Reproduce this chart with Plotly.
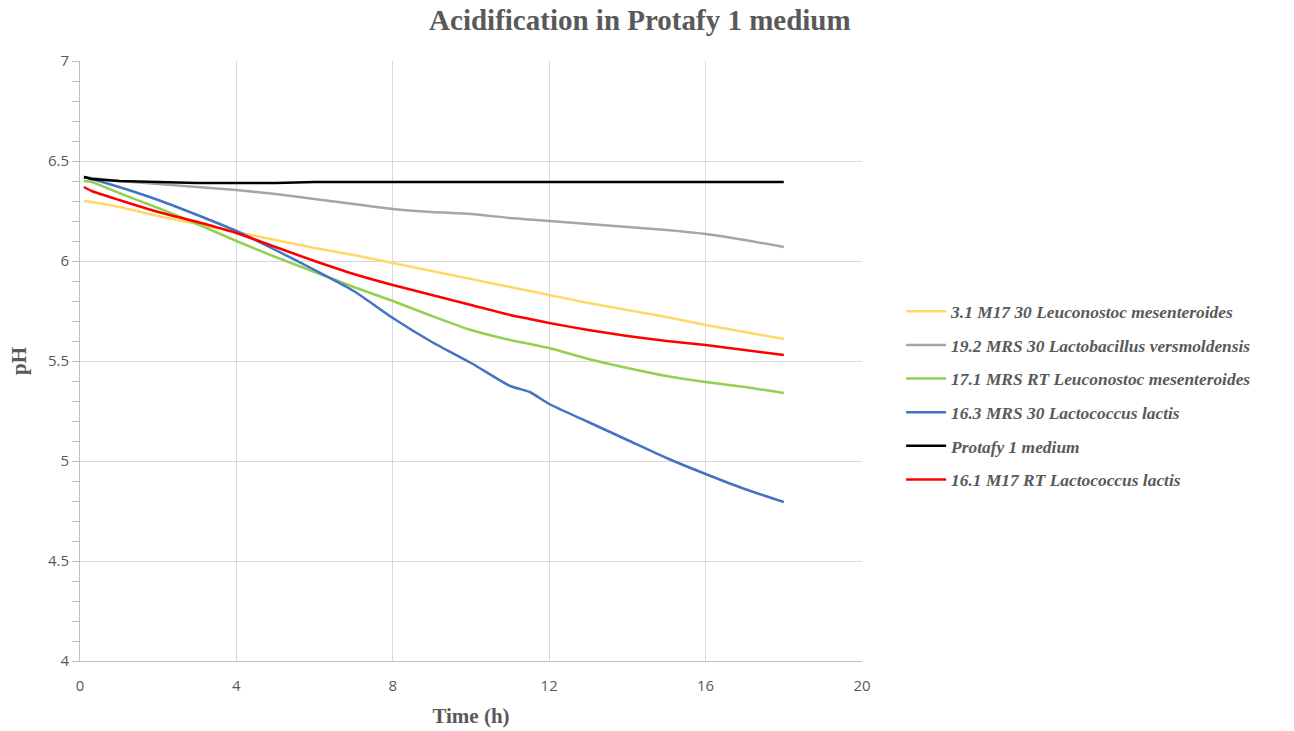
import plotly.graph_objects as go

hours = [0.1, 0.3, 1, 2, 3, 4, 5, 6, 7, 8, 9, 10, 11, 11.5, 12, 13, 14, 15, 16, 17, 18]

ph_31_m17_30 = [6.30, 6.295, 6.27, 6.225, 6.185, 6.145, 6.105, 6.065, 6.03, 5.99, 5.95,
                5.91, 5.87, 5.85, 5.83, 5.79, 5.755, 5.72, 5.68, 5.645, 5.61]
ph_192_mrs_30 = [6.42, 6.415, 6.40, 6.385, 6.37, 6.355, 6.335, 6.31, 6.285, 6.26, 6.245,
                 6.235, 6.215, 6.208, 6.20, 6.185, 6.17, 6.155, 6.135, 6.105, 6.07]
ph_171_mrs_rt = [6.40, 6.395, 6.34, 6.265, 6.185, 6.10, 6.02, 5.945, 5.87, 5.80, 5.725,
                 5.655, 5.605, 5.585, 5.565, 5.51, 5.465, 5.425, 5.395, 5.37, 5.34]
ph_163_mrs_30 = [6.42, 6.41, 6.37, 6.305, 6.23, 6.15, 6.055, 5.955, 5.85, 5.715, 5.595,
                 5.49, 5.375, 5.345, 5.285, 5.195, 5.105, 5.015, 4.935, 4.86, 4.795]
ph_protafy = [6.42, 6.41, 6.40, 6.395, 6.39, 6.39, 6.39, 6.395, 6.395, 6.395, 6.395,
              6.395, 6.395, 6.395, 6.395, 6.395, 6.395, 6.395, 6.395, 6.393, 6.395]
ph_161_m17_rt = [6.37, 6.35, 6.305, 6.245, 6.195, 6.14, 6.07, 6.0, 5.935, 5.88, 5.83,
                 5.78, 5.73, 5.71, 5.69, 5.655, 5.625, 5.60, 5.58, 5.555, 5.53]

series_names = [
    "3.1 M17 30 Leuconostoc mesenteroides",
    "19.2 MRS 30 Lactobacillus versmoldensis",
    "17.1 MRS RT Leuconostoc mesenteroides",
    "16.3 MRS 30 Lactococcus lactis",
    "Protafy 1 medium",
    "16.1 M17 RT Lactococcus lactis",
]
series_values = [ph_31_m17_30, ph_192_mrs_30, ph_171_mrs_rt, ph_163_mrs_30, ph_protafy, ph_161_m17_rt]
series_colors = ["#FFD966", "#A5A5A5", "#92D050", "#4472C4", "#000000", "#FF0000"]

x_ticks = [0, 4, 8, 12, 16, 20]
y_ticks = [4, 4.5, 5, 5.5, 6, 6.5, 7]

fig = go.Figure()
for i, (name, vals, col) in enumerate(zip(series_names, series_values, series_colors)):
    shape = "linear" if name == "Protafy 1 medium" else "spline"
    fig.add_trace(go.Scatter(
        x=hours, y=vals, mode="lines", name=name,
        line=dict(color=col, width=2.5, shape=shape, smoothing=0.6),
        legendgroup=f"g{i}",
    ))

serif = "Liberation Serif, Times New Roman, serif"
sans = "Open Sans, DejaVu Sans, sans-serif"

W, H = 1294, 731
fig.update_layout(
    width=W, height=H,
    paper_bgcolor="white", plot_bgcolor="white",
    margin=dict(l=80, r=W - 80 - 782, t=61, b=H - 61 - 600),
    title=dict(text="<b>Acidification in Protafy 1 medium</b>", x=0.4945, xanchor="center",
               y=1 - 19.5 / H, yanchor="middle",
               font=dict(family=serif, size=29, color="#595959")),
    showlegend=True,
    legend=dict(x=1.05, xanchor="left", y=0.4425, yanchor="middle",
                font=dict(family=serif, size=17.4, color="#595959", style="italic", weight="bold"),
                tracegroupgap=8, itemwidth=40, bgcolor="rgba(0,0,0,0)"),
    xaxis=dict(range=[0, 20], tickvals=x_ticks, ticktext=[str(v) for v in x_ticks],
               showgrid=True, gridcolor="#D9D9D9", gridwidth=1,
               showline=True, linecolor="#BFBFBF", linewidth=1, zeroline=False,
               ticks="", tickfont=dict(family=sans, size=15, color="#595959"),
               ticklabelstandoff=11,
               automargin=False,
               title=dict(text="<b>Time (h)</b>", font=dict(family=serif, size=21, color="#595959"),
                          standoff=14)),
    yaxis=dict(range=[4, 7], tickvals=y_ticks, ticktext=[f"{v:g}" for v in y_ticks],
               showgrid=True, gridcolor="#D9D9D9", gridwidth=1,
               showline=True, linecolor="#BFBFBF", linewidth=1, zeroline=False,
               ticks="outside", ticklen=7, tickcolor="#BFBFBF",
               minor=dict(dtick=0.1, ticks="outside", ticklen=7, tickcolor="#BFBFBF", showgrid=False),
               tickfont=dict(family=sans, size=15, color="#595959"),
               automargin=False,
               title=dict(text="<b>pH</b>", font=dict(family=serif, size=21, color="#595959"),
                          standoff=15)),
)
fig.write_html("out.html", config={"displayModeBar": False},
               post_script="document.body.style.margin='0';document.body.style.padding='0';")
